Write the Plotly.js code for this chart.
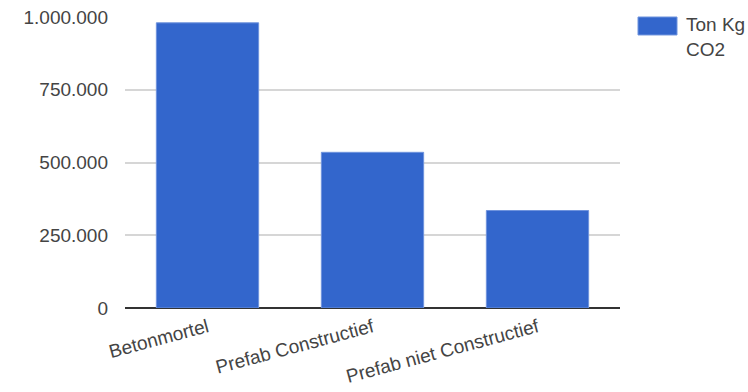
<!DOCTYPE html>
<html>
<head>
<meta charset="utf-8">
<script src="https://cdn.plot.ly/plotly-3.0.1.min.js"></script>
<style>
  html, body { margin: 0; padding: 0; background: #fff; }
  #chart { width: 748px; height: 392px; }
</style>
</head>
<body>
<div id="chart"></div>
<script>
// CO2 emissions per concrete product group
const categories = ['Betonmortel', 'Prefab Constructief', 'Prefab niet Constructief'];
const co2Values = [980000, 535000, 335000];
const seriesName = 'Ton Kg CO2';
const yTicks = [0, 250000, 500000, 750000, 1000000];

const barColor = '#3366cc';
const textColor = '#444444';
const fontFamily = 'Arial, "Liberation Sans", sans-serif';

const trace = {
  type: 'bar',
  x: categories,
  y: co2Values,
  name: seriesName,
  marker: { color: barColor, line: { color: '#6f93dd', width: 1 } },
  hoverinfo: 'x+y',
  showlegend: false
};

// Legend label wrapped onto two lines, next to a wide swatch
const legendLabel = seriesName.replace(/ (\S+)$/, '<br>$1');

const layout = {
  width: 748,
  height: 392,
  margin: { l: 125, r: 128, t: 17, b: 84 },
  paper_bgcolor: '#ffffff',
  plot_bgcolor: '#ffffff',
  separators: ',.',
  font: { family: fontFamily, size: 19, color: textColor },
  bargap: 0.38,
  xaxis: {
    type: 'category',
    tickangle: -15,
    showgrid: false,
    showline: false,
    zeroline: false,
    ticks: '',
    ticklabelstandoff: 4,
    tickfont: { size: 19, color: textColor }
  },
  yaxis: {
    range: [0, 1000000],
    tickvals: yTicks,
    tickformat: ',d',
    showgrid: true,
    gridcolor: '#d6d6d6',
    gridwidth: 1.5,
    zeroline: true,
    zerolinecolor: '#333333',
    zerolinewidth: 2,
    showline: false,
    ticks: '',
    ticklabelstandoff: 16,
    tickfont: { size: 19, color: textColor }
  },
  shapes: [{
    type: 'rect',
    xref: 'paper', yref: 'paper',
    x0: (638 - 125) / 495, x1: (677 - 125) / 495,
    y0: (308.3 - 35) / 291.3, y1: (308.3 - 17) / 291.3,
    fillcolor: barColor,
    line: { color: '#6f93dd', width: 1 }
  }],
  annotations: [{
    xref: 'paper', yref: 'paper',
    x: (684 - 125) / 495,
    y: (308.3 - 12) / 291.3,
    xanchor: 'left', yanchor: 'top',
    align: 'left',
    showarrow: false,
    text: legendLabel,
    font: { family: fontFamily, size: 19, color: textColor }
  }]
};

Plotly.newPlot('chart', [trace], layout, { displayModeBar: false, responsive: false });
</script>
</body>
</html>
